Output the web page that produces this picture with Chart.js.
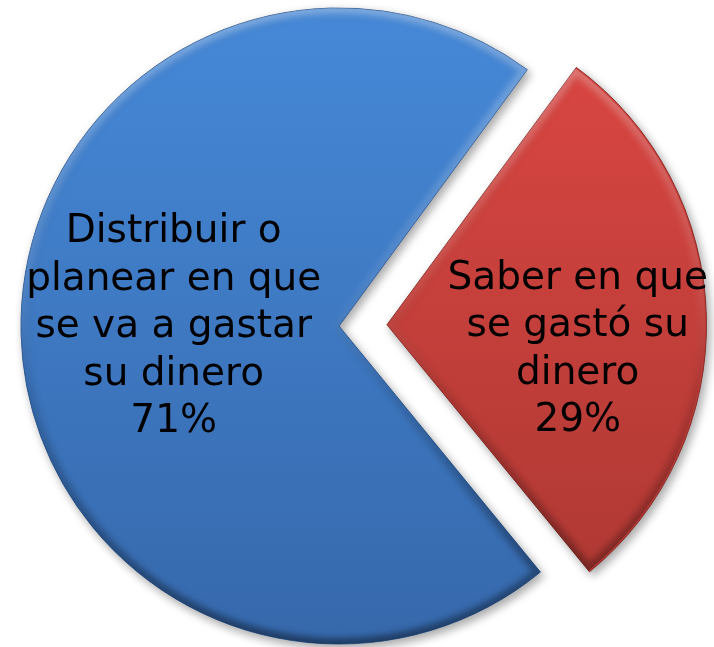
<!DOCTYPE html>
<html>
<head>
<meta charset="utf-8">
<script src="https://cdn.jsdelivr.net/npm/chart.js"></script>
<style>
html, body { margin: 0; padding: 0; background: #fff; }
#wrap { width: 714px; height: 647px; position: relative; }
</style>
</head>
<body>
<div id="wrap"><canvas id="myChartDinero"></canvas></div>
<script>
// grafico dinero

var categorias = [
    ['Distribuir o', 'planear en que', 'se va a gastar', 'su dinero'],
    ['Saber en que', 'se gastó su', 'dinero']
];
var porcentajes = [71, 29];

// sombra debaixo das fatias
var sombra = {
    id: 'sombra',
    beforeDatasetsDraw: function (chart) {
        var ctx = chart.ctx;
        ctx.save();
        ctx.shadowColor = 'rgba(0,0,0,0.35)';
        ctx.shadowBlur = 10;
        ctx.shadowOffsetX = 3;
        ctx.shadowOffsetY = 4;
    },
    afterDatasetsDraw: function (chart) {
        chart.ctx.restore();
    }
};

// efeito de relevo nas bordas
var relevo = {
    id: 'relevo',
    afterDatasetsDraw: function (chart) {
        var ctx = chart.ctx;
        var meta = chart.getDatasetMeta(0);
        meta.data.forEach(function (arc) {
            var p = arc.getProps(['x', 'y', 'startAngle', 'endAngle', 'outerRadius'], true);
            var mid = (p.startAngle + p.endAngle) / 2;
            var off = (arc.options.offset || 0) / 4;
            ctx.save();
            ctx.translate(Math.cos(mid) * off, Math.sin(mid) * off);
            ctx.beginPath();
            ctx.moveTo(p.x, p.y);
            ctx.arc(p.x, p.y, p.outerRadius, p.startAngle, p.endAngle);
            ctx.closePath();
            ctx.clip();
            var g = ctx.createLinearGradient(0, p.y - p.outerRadius, 0, p.y + p.outerRadius);
            g.addColorStop(0, 'rgba(255,255,255,0.3)');
            g.addColorStop(0.45, 'rgba(255,255,255,0.08)');
            g.addColorStop(0.6, 'rgba(0,0,0,0.08)');
            g.addColorStop(1, 'rgba(0,0,0,0.4)');
            ctx.filter = 'blur(3px)';
            ctx.lineWidth = 12;
            ctx.strokeStyle = g;
            ctx.stroke();
            ctx.restore();
        });
    }
};

// textos dentro das fatias
var rotulos = {
    id: 'rotulos',
    afterDatasetsDraw: function (chart, args, opts) {
        var ctx = chart.ctx;
        var meta = chart.getDatasetMeta(0);
        ctx.save();
        ctx.font = opts.font;
        ctx.fillStyle = '#000';
        ctx.textAlign = 'center';
        ctx.textBaseline = 'middle';
        meta.data.forEach(function (arc, i) {
            var p = arc.getProps(['x', 'y', 'startAngle', 'endAngle', 'outerRadius'], true);
            var mid = (p.startAngle + p.endAngle) / 2;
            var d = (arc.options.offset || 0) / 4 + p.outerRadius * opts.distancia[i];
            var x = p.x + Math.cos(mid) * d;
            var y = p.y + Math.sin(mid) * d + opts.ajusteY[i];
            var linhas = categorias[i].concat([porcentajes[i] + '%']);
            var topo = y - (linhas.length - 1) * opts.entrelinha / 2;
            linhas.forEach(function (l, j) {
                ctx.fillText(l, x, topo + j * opts.entrelinha);
            });
        });
        ctx.restore();
    }
};

function gradiente(ctx, cima, baixo) {
    var area = ctx.chart.chartArea;
    if (!area) return cima;
    var g = ctx.chart.ctx.createLinearGradient(0, area.top, 0, area.bottom);
    g.addColorStop(0, cima);
    g.addColorStop(1, baixo);
    return g;
}

new Chart("myChartDinero", {
    type: "pie",
    data: {
        labels: categorias.map(function (c) { return c.join(' '); }),
        datasets: [{
            data: porcentajes,
            backgroundColor: function (ctx) {
                return ctx.dataIndex === 0
                    ? gradiente(ctx, '#4689d8', '#3668ab')
                    : gradiente(ctx, '#dd4743', '#aa3732');
            },
            borderColor: ['#2c5a96', '#8c2c28'],
            borderWidth: 1,
            offset: [0, 192]
        }]
    },
    plugins: [sombra, relevo, rotulos],
    options: {
        responsive: true,
        maintainAspectRatio: false,
        animation: false,
        events: [],
        rotation: 140.7,
        radius: 318,
        layout: {
            padding: { top: 5, right: 36, bottom: 0, left: 0 }
        },
        plugins: {
            legend: { display: false },
            tooltip: { enabled: false },
            rotulos: {
                font: '39px "DejaVu Sans"',
                entrelinha: 47.5,
                distancia: [0.52, 0.6],
                ajusteY: [-3, 30]
            }
        }
    }
});
</script>
</body>
</html>
